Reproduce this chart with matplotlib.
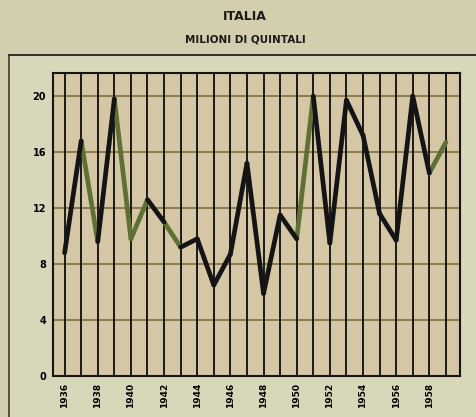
import matplotlib
matplotlib.use("Agg")
import matplotlib.pyplot as plt
from matplotlib.lines import Line2D

years = list(range(1936, 1960))
values = [8.8, 16.8, 9.6, 19.8, 9.8, 12.6, 11.0, 9.2, 9.8, 6.5, 8.7, 15.2,
          5.9, 11.5, 9.8, 20.0, 9.5, 19.7, 17.2, 11.6, 9.7, 20.0, 14.5, 16.7]
# colour of the segment that starts at each year ("k" black, "g" green print)
segment_colors = ["k", "g", "k", "g", "g", "k", "g", "k", "k", "k", "k", "k",
                  "k", "k", "g", "k", "k", "k", "k", "k", "k", "k", "g"]
yticks = [0, 4, 8, 12, 16, 20]
xtick_years = list(range(1936, 1960, 2))
title = "ITALIA"
subtitle = "MILIONI DI QUINTALI"

BLACK = "#141414"
GREEN = "#5f7035"
cmap = {"k": BLACK, "g": GREEN}

fig = plt.figure(figsize=(4.76, 4.17), dpi=100)
fig.patch.set_facecolor("#d9d7b9")
W, H = 476, 417

# outer darker margin (scan border)
fig.add_artist(plt.Rectangle((0, 1 - 55 / H), 1, 55 / H, transform=fig.transFigure,
                             facecolor="#d3ceae", edgecolor="none", zorder=-5))
fig.add_artist(plt.Rectangle((0, 0), 9 / W, 1, transform=fig.transFigure,
                             facecolor="#d3ceae", edgecolor="none", zorder=-5))
fig.add_artist(Line2D([9 / W, 1], [1 - 55 / H, 1 - 55 / H], transform=fig.transFigure,
                      color="#222222", lw=1.3))
fig.add_artist(Line2D([9 / W, 9 / W], [0, 1 - 55 / H], transform=fig.transFigure,
                      color="#3a3a30", lw=1.2))

ax = fig.add_axes([53 / W, 1 - 376 / H, (460 - 53) / W, (376 - 73) / H])
ax.set_facecolor("#d5c7a6")
ax.set_xlim(1935.3, 1959.85)
ax.set_ylim(0, 21.65)

for y in yticks[1:]:
    ax.axhline(y, color="#8a7a4e", lw=1.4, zorder=1)
for yr in years:
    ax.axvline(yr, color="#1a1a1a", lw=1.4, zorder=2)

for i in range(len(years) - 1):
    c = segment_colors[i]
    ax.plot(years[i:i + 2], values[i:i + 2], color=cmap[c],
            lw=3.4, solid_capstyle="round", solid_joinstyle="miter",
            zorder=4 if c == "k" else 3)

ax.set_yticks(yticks)
ax.set_yticklabels([str(v) for v in yticks], fontsize=7, fontweight="bold",
                   family="DejaVu Sans")
ax.set_xticks(xtick_years)
ax.set_xticklabels([str(v) for v in xtick_years], rotation=90, fontsize=6.5,
                   fontweight="bold", family="DejaVu Sans")
ax.tick_params(length=0, pad=5)
for s in ax.spines.values():
    s.set_color("#151515")
    s.set_linewidth(1.5)

fig.text(245 / W, 1 - 17 / H, title, ha="center", va="center", fontsize=9,
         fontweight="bold", color="#1a1a1a")
fig.text(245 / W, 1 - 40 / H, subtitle, ha="center", va="center", fontsize=7.5,
         fontweight="bold", color="#1a1a1a")

fig.savefig("out.png", dpi=100, facecolor=fig.get_facecolor())
